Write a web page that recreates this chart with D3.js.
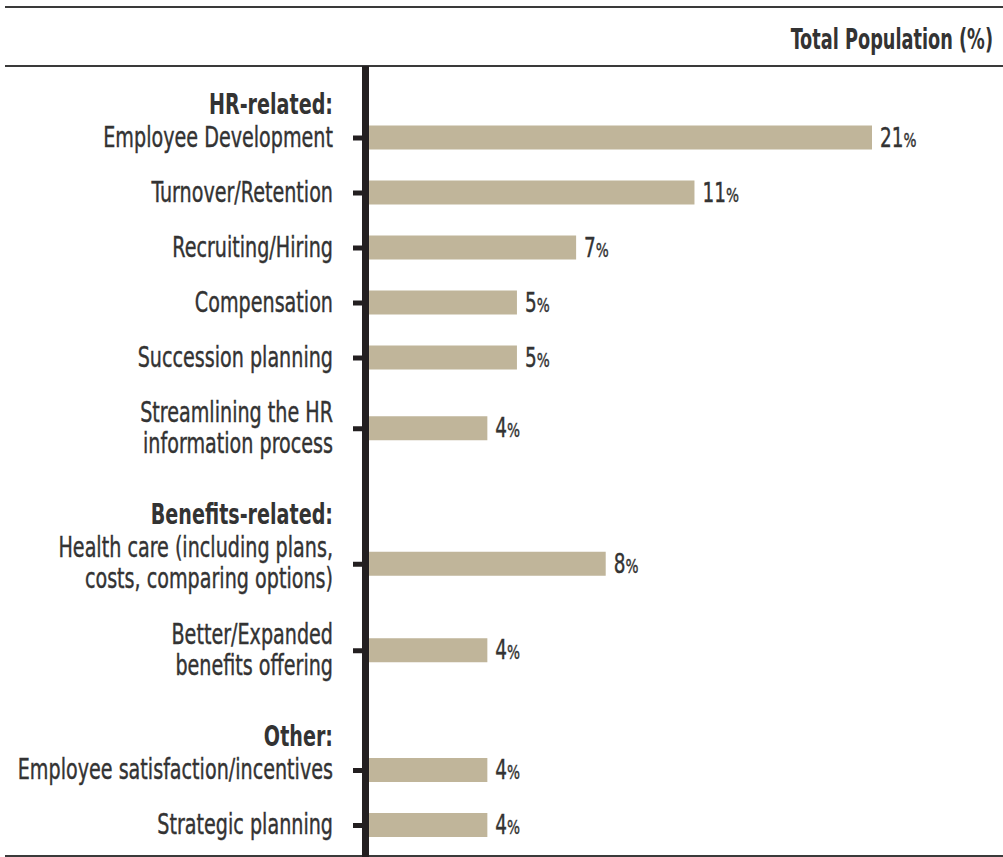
<!DOCTYPE html>
<meta charset="utf-8">
<style>
  body { margin: 0; background: #fff; }
  text { font-family: "Liberation Sans Narrow", "Arial Narrow", "DejaVu Sans Condensed", sans-serif; fill: #333; }
</style>
<svg width="1003" height="857"></svg>
<script src="https://d3js.org/d3.v7.min.js"></script>
<script>

// data
var title = "Total Population (%)";
var groups = ["HR-related:", "Benefits-related:", "Other:"];
var categories = [
  "Employee Development",
  "Turnover/Retention",
  "Recruiting/Hiring",
  "Compensation",
  "Succession planning",
  "Streamlining the HR\ninformation process",
  "Health care (including plans,\ncosts, comparing options)",
  "Better/Expanded\nbenefits offering",
  "Employee satisfaction/incentives",
  "Strategic planning"
];
var categoryGroup = [0, 0, 0, 0, 0, 0, 1, 1, 2, 2];
var values = [21, 11, 7, 5, 5, 4, 8, 4, 4, 4];

var W = 1003, H = 857;
var svg = d3.select("svg");

// if the narrow font is missing, squeeze the text horizontally instead
var squeeze = 1, titleSqueeze = 1;
(function () {
  var t1 = svg.append("text").style("font-size", "26px").text("Employee Development");
  var t2 = svg.append("text").style("font-size", "26px").style("font-family", "Liberation Sans, Arial, sans-serif").text("Employee Development");
  var r = t1.node().getComputedTextLength() / t2.node().getComputedTextLength();
  if (r > 0.9) { squeeze = 0.76; titleSqueeze = 0.68; }
  t1.remove(); t2.remove();
})();
function place(x, y, k) { return "translate(" + x + "," + y + ") scale(" + (k || squeeze) + ",1)"; }

// vertical layout: stack headers and label lines
var lineH = 31.5, itemStep = 55, headStep = 33, groupGap = 16;
var heads = [], rows = [];
var cur = 113.5;
groups.forEach(function (g, gi) {
  heads.push({ text: g, y: cur });
  cur += headStep;
  categories.forEach(function (c, i) {
    if (categoryGroup[i] !== gi) return;
    var lines = c.split("\n");
    rows.push({ name: c, lines: lines, value: values[i], y: cur, mid: cur + (lines.length - 1) * lineH / 2 - 9 });
    cur += (lines.length - 1) * lineH + itemStep;
  });
  cur += groupGap;
});

var y = d3.scaleOrdinal()
  .domain(rows.map(function (d) { return d.name; }))
  .range(rows.map(function (d) { return d.mid; }));

// bars longer than the frame are cut at its edge (21%)
var x = d3.scaleLinear().domain([0, 17]).range([369, 872]).clamp(true);

var barH = 24;
var labelX = 333;
var fs = "28px";

// frame lines
svg.selectAll("line.rule")
  .data([7, 66, 856])
  .enter().append("line")
    .attr("class", "rule")
    .attr("x1", 5).attr("x2", W)
    .attr("y1", function (d) { return d; })
    .attr("y2", function (d) { return d; })
    .attr("stroke", "#3a3a3a")
    .attr("stroke-width", 2);

svg.append("text")
  .attr("transform", place(993, 49, titleSqueeze))
  .attr("text-anchor", "end")
  .style("font-size", "29px")
  .style("font-weight", "bold")
  .text(title);

// bars
svg.append("g").selectAll("rect")
  .data(rows)
  .enter().append("rect")
    .attr("x", x(0))
    .attr("y", function (d) { return y(d.name) - barH / 2; })
    .attr("width", function (d) { return x(d.value) - x(0); })
    .attr("height", barH)
    .attr("fill", "#c0b59a");

// axis line and stub ticks
svg.append("rect")
  .attr("x", 362).attr("y", 66)
  .attr("width", 7).attr("height", H - 66)
  .attr("fill", "#231f20");

var axis = svg.append("g")
  .attr("transform", "translate(362,0)")
  .call(d3.axisLeft(y).tickSizeInner(9).tickSizeOuter(0).tickFormat(""));
axis.select(".domain").remove();
axis.selectAll(".tick line").attr("stroke", "#231f20").attr("stroke-width", 5);

// category labels
var lab = svg.append("g").selectAll("text")
  .data(rows)
  .enter().append("text")
    .attr("transform", function (d) { return place(labelX, d.y); })
    .attr("text-anchor", "end")
    .attr("stroke", "#333").attr("stroke-width", 0.4)
    .style("font-size", fs);
lab.selectAll("tspan")
  .data(function (d) { return d.lines; })
  .enter().append("tspan")
    .attr("x", 0)
    .attr("y", function (d, i) { return i * lineH; })
    .text(function (d) { return d; });

// group headers
svg.append("g").selectAll("text")
  .data(heads)
  .enter().append("text")
    .attr("transform", function (d) { return place(labelX, d.y); })
    .attr("text-anchor", "end")
    .style("font-size", fs)
    .style("font-weight", "bold")
    .text(function (d) { return d.text; });

// value labels
var val = svg.append("g").selectAll("text")
  .data(rows)
  .enter().append("text")
    .attr("transform", function (d) { return place(x(d.value) + 8, y(d.name) + 9); })
    .attr("stroke", "#333").attr("stroke-width", 0.4)
    .style("font-size", "27px");
val.append("tspan").text(function (d) { return d.value; });
val.append("tspan").style("font-size", "20px").text("%");

</script>
